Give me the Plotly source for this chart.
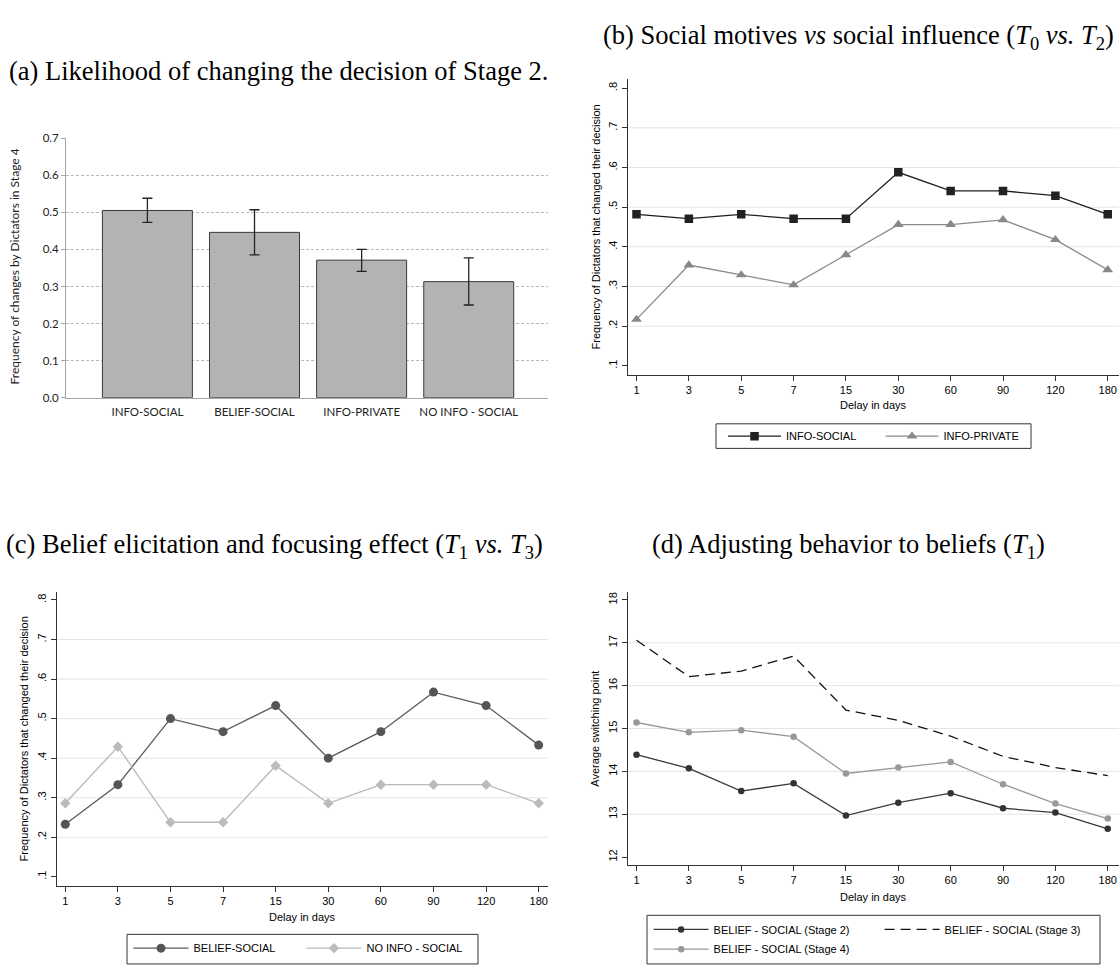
import plotly.graph_objects as go

W, H = 1119, 966

# ---------------- data ----------------
# Panel (a)
cat_a = ["INFO-SOCIAL", "BELIEF-SOCIAL", "INFO-PRIVATE", "NO INFO - SOCIAL"]
freq_a = [0.505, 0.446, 0.371, 0.313]
ci_low_a = [0.473, 0.385, 0.341, 0.250]
ci_high_a = [0.538, 0.507, 0.400, 0.377]

# Panels (b)-(d)
delays = ["1", "3", "5", "7", "15", "30", "60", "90", "120", "180"]
info_social = [0.482, 0.471, 0.482, 0.471, 0.471, 0.588, 0.541, 0.541, 0.529, 0.482]
info_private = [0.217, 0.354, 0.329, 0.304, 0.380, 0.456, 0.456, 0.468, 0.418, 0.342]
belief_social = [0.233, 0.333, 0.500, 0.467, 0.533, 0.400, 0.467, 0.567, 0.533, 0.433]
noinfo_social = [0.286, 0.429, 0.238, 0.238, 0.381, 0.286, 0.333, 0.333, 0.333, 0.286]
stage2 = [14.39, 14.07, 13.54, 13.72, 12.97, 13.27, 13.49, 13.14, 13.04, 12.66]
stage3 = [17.06, 16.21, 16.34, 16.69, 15.43, 15.19, 14.82, 14.35, 14.09, 13.90]
stage4 = [15.14, 14.91, 14.96, 14.81, 13.95, 14.09, 14.22, 13.70, 13.25, 12.90]

freq_ticks = [0.1, 0.2, 0.3, 0.4, 0.5, 0.6, 0.7, 0.8]
freq_ticktext = [".1", ".2", ".3", ".4", ".5", ".6", ".7", ".8"]
freq_grid = [0.2, 0.3, 0.4, 0.5, 0.6, 0.7]
sw_ticks = [12, 13, 14, 15, 16, 17, 18]
sw_grid = [13, 14, 15, 16, 17]
a_ticks = [0, 0.1, 0.2, 0.3, 0.4, 0.5, 0.6, 0.7]
a_ticktext = ["0.0", "0.1", "0.2", "0.3", "0.4", "0.5", "0.6", "0.7"]


def fx(p):
    return p / W


def fy(p):
    return 1 - p / H


SANS = "Liberation Sans, Arial, sans-serif"
CAL = "Lato, Open Sans, sans-serif"
SERIF = "Liberation Serif, Times New Roman, serif"

fig = go.Figure()

# ---------------- (a) bars ----------------
fig.add_trace(go.Bar(
    x=cat_a, y=freq_a, xaxis="x", yaxis="y", width=0.84,
    marker=dict(color="#b3b3b3", line=dict(color="#3a3a3a", width=1)),
    error_y=dict(type="data", symmetric=False,
                 array=[h - v for h, v in zip(ci_high_a, freq_a)],
                 arrayminus=[v - l for v, l in zip(freq_a, ci_low_a)],
                 color="#222222", thickness=1.3, width=5),
    showlegend=False))

# ---------------- (b) ----------------
fig.add_trace(go.Scatter(
    x=delays, y=info_social, xaxis="x2", yaxis="y2", mode="lines+markers",
    name="INFO-SOCIAL", legend="legend",
    line=dict(color="#1e1e1e", width=1.3),
    marker=dict(symbol="square", size=8.5, color="#222222")))
fig.add_trace(go.Scatter(
    x=delays, y=info_private, xaxis="x2", yaxis="y2", mode="lines+markers",
    name="INFO-PRIVATE", legend="legend",
    line=dict(color="#8a8a8a", width=1.3),
    marker=dict(symbol="triangle-up", size=9.5, color="#888888")))

# ---------------- (c) ----------------
fig.add_trace(go.Scatter(
    x=delays, y=belief_social, xaxis="x3", yaxis="y3", mode="lines+markers",
    name="BELIEF-SOCIAL", legend="legend2",
    line=dict(color="#5a5a5a", width=1.3),
    marker=dict(symbol="circle", size=9, color="#555555")))
fig.add_trace(go.Scatter(
    x=delays, y=noinfo_social, xaxis="x3", yaxis="y3", mode="lines+markers",
    name="NO INFO - SOCIAL", legend="legend2",
    line=dict(color="#b8b8b8", width=1.3),
    marker=dict(symbol="diamond", size=8, color="#bbbbbb")))

# ---------------- (d) ----------------
fig.add_trace(go.Scatter(
    x=delays, y=stage2, xaxis="x4", yaxis="y4", mode="lines+markers",
    name="BELIEF - SOCIAL (Stage 2)", legend="legend3",
    line=dict(color="#3a3a3a", width=1.3),
    marker=dict(symbol="circle", size=6.5, color="#333333")))
fig.add_trace(go.Scatter(
    x=delays, y=stage3, xaxis="x4", yaxis="y4", mode="lines",
    name="BELIEF - SOCIAL (Stage 3)", legend="legend3",
    line=dict(color="#111111", width=1.3, dash="10px,6px")))
fig.add_trace(go.Scatter(
    x=delays, y=stage4, xaxis="x4", yaxis="y4", mode="lines+markers",
    name="BELIEF - SOCIAL (Stage 4)", legend="legend4",
    line=dict(color="#999999", width=1.3),
    marker=dict(symbol="circle", size=6.5, color="#999999")))

# ---------------- axes ----------------
stata_x = dict(type="category", showline=True, linecolor="#333333", linewidth=1,
               ticks="outside", ticklen=5, tickcolor="#333333", tickwidth=1,
               showgrid=False, zeroline=False,
               tickfont=dict(family=SANS, size=11, color="#000000"))
stata_y = dict(showline=True, linecolor="#333333", linewidth=1,
               ticks="outside", ticklen=5, tickcolor="#333333", tickwidth=1,
               showgrid=False, zeroline=False, tickangle=-90,
               tickfont=dict(family=SANS, size=11, color="#000000"))

layout = dict(
    width=W, height=H, autosize=False,
    margin=dict(l=0, r=0, t=0, b=0),
    paper_bgcolor="white", plot_bgcolor="white",
    bargap=0.16,
    xaxis=dict(domain=[fx(66), fx(548)], anchor="y", type="category",
               range=[-0.76, 3.74], showline=True, linecolor="#a6a6a6",
               linewidth=1, ticks="", showgrid=False, zeroline=False,
               ticklabelstandoff=4,
               tickfont=dict(family=CAL, size=11.5, color="#222222")),
    yaxis=dict(domain=[fy(396), fy(133)], anchor="x", range=[0, 0.7],
               tickvals=a_ticks, ticktext=a_ticktext,
               showline=True, linecolor="#a6a6a6", linewidth=1,
               ticks="outside", ticklen=4, tickcolor="#a6a6a6",
               showgrid=True, gridcolor="#b8b8b8", griddash="3px,2px",
               gridwidth=1, zeroline=False,
               tickfont=dict(family=CAL, size=11.5, color="#222222")),
    xaxis2=dict(stata_x, domain=[fx(627.7), fx(1119)], anchor="y2",
                range=[-0.168, 9.215]),
    yaxis2=dict(stata_y, domain=[fy(372.7), fy(73.3)], anchor="x2",
                range=[0.0776, 0.8224], tickvals=freq_ticks,
                ticktext=freq_ticktext),
    xaxis3=dict(stata_x, domain=[fx(56.7), fx(548)], anchor="y3",
                range=[-0.163, 9.177]),
    yaxis3=dict(stata_y, domain=[fy(890.7), fy(593)], anchor="x3",
                range=[0.0776, 0.82], tickvals=freq_ticks,
                ticktext=freq_ticktext),
    xaxis4=dict(stata_x, domain=[fx(627.7), fx(1119)], anchor="y4",
                range=[-0.168, 9.215]),
    yaxis4=dict(stata_y, domain=[fy(870), fy(593)], anchor="x4",
                range=[11.809, 18.184], tickvals=sw_ticks),
)

leg_common = dict(orientation="h", bgcolor="rgba(0,0,0,0)", borderwidth=0,
                  xanchor="left", yanchor="middle", entrywidthmode="pixels",
                  font=dict(family=SANS, size=11, color="#000000"))
layout["legend"] = dict(leg_common, x=fx(723), y=fy(435), itemwidth=53,
                        entrywidth=89.5)
layout["legend2"] = dict(leg_common, x=fx(128.5), y=fy(954), itemwidth=55,
                         entrywidth=103)
layout["legend3"] = dict(leg_common, x=fx(648.6), y=fy(935), itemwidth=55,
                         entrywidth=161)
layout["legend4"] = dict(leg_common, x=fx(648.6), y=fy(955), itemwidth=55,
                         entrywidth=161)

fig.update_layout(**layout)

# grid lines (Stata style: interior labels only)
for v in freq_grid:
    for xr, yr in (("x2", "y2"), ("x3", "y3")):
        fig.add_shape(type="line", xref=xr + " domain", yref=yr,
                      x0=0, x1=1, y0=v, y1=v, layer="below",
                      line=dict(color="#dce7ec", width=1))
for v in sw_grid:
    fig.add_shape(type="line", xref="x4 domain", yref="y4",
                  x0=0, x1=1, y0=v, y1=v, layer="below",
                  line=dict(color="#dce7ec", width=1))

# legend boxes
for (x0, y0, x1, y1) in ((716, 422.5, 1031, 447.4),
                         (127, 940, 478, 970),
                         (647, 920.7, 1100, 970)):
    fig.add_shape(type="rect", xref="paper", yref="paper",
                  x0=fx(x0), x1=fx(x1), y0=fy(y1), y1=fy(y0),
                  line=dict(color="#333333", width=1), fillcolor="rgba(0,0,0,0)")

# titles
ann = []
ann.append(dict(text="(a) Likelihood of changing the decision of Stage 2.",
                x=fx(7), y=fy(65), xanchor="left", yanchor="middle",
                font=dict(family=SERIF, size=26.5, color="#000")))
ann.append(dict(text="(b) Social motives <i>vs</i> social influence "
                     "(<i>T</i><sub>0</sub> <i>vs.</i> <i>T</i><sub>2</sub>)",
                x=fx(1116), y=fy(30), xanchor="right", yanchor="middle",
                font=dict(family=SERIF, size=26.5, color="#000")))
ann.append(dict(text="(c) Belief elicitation and focusing effect "
                     "(<i>T</i><sub>1</sub> <i>vs.</i> <i>T</i><sub>3</sub>)",
                x=fx(4), y=fy(546), xanchor="left", yanchor="middle",
                font=dict(family=SERIF, size=26.5, color="#000")))
ann.append(dict(text="(d) Adjusting behavior to beliefs (<i>T</i><sub>1</sub>)",
                x=fx(650), y=fy(546), xanchor="left", yanchor="middle",
                font=dict(family=SERIF, size=26.5, color="#000")))
# axis titles
ann.append(dict(text="Frequency of changes by Dictators in Stage 4",
                x=fx(14), y=fy(263), textangle=-90, xanchor="center",
                yanchor="middle", font=dict(family=CAL, size=12, color="#222")))
ann.append(dict(text="Frequency of Dictators that changed their decision",
                x=fx(595.5), y=fy(223), textangle=-90, xanchor="center",
                yanchor="middle", font=dict(family=SANS, size=11, color="#000")))
ann.append(dict(text="Frequency of Dictators that changed their decision",
                x=fx(24.4), y=fy(742), textangle=-90, xanchor="center",
                yanchor="middle", font=dict(family=SANS, size=11, color="#000")))
ann.append(dict(text="Average switching point",
                x=fx(595.5), y=fy(732), textangle=-90, xanchor="center",
                yanchor="middle", font=dict(family=SANS, size=11, color="#000")))
ann.append(dict(text="Delay in days", x=fx(873), y=fy(403.5),
                xanchor="center", yanchor="middle",
                font=dict(family=SANS, size=11, color="#000")))
ann.append(dict(text="Delay in days", x=fx(302), y=fy(922),
                xanchor="center", yanchor="middle",
                font=dict(family=SANS, size=11, color="#000")))
ann.append(dict(text="Delay in days", x=fx(873), y=fy(902),
                xanchor="center", yanchor="middle",
                font=dict(family=SANS, size=11, color="#000")))
for a in ann:
    a.update(xref="paper", yref="paper", showarrow=False)
fig.update_layout(annotations=ann)

fig.write_html("out.html",
               config={"displayModeBar": False},
               post_script="document.body.style.margin='0';"
                           "document.body.style.overflow='hidden';")
